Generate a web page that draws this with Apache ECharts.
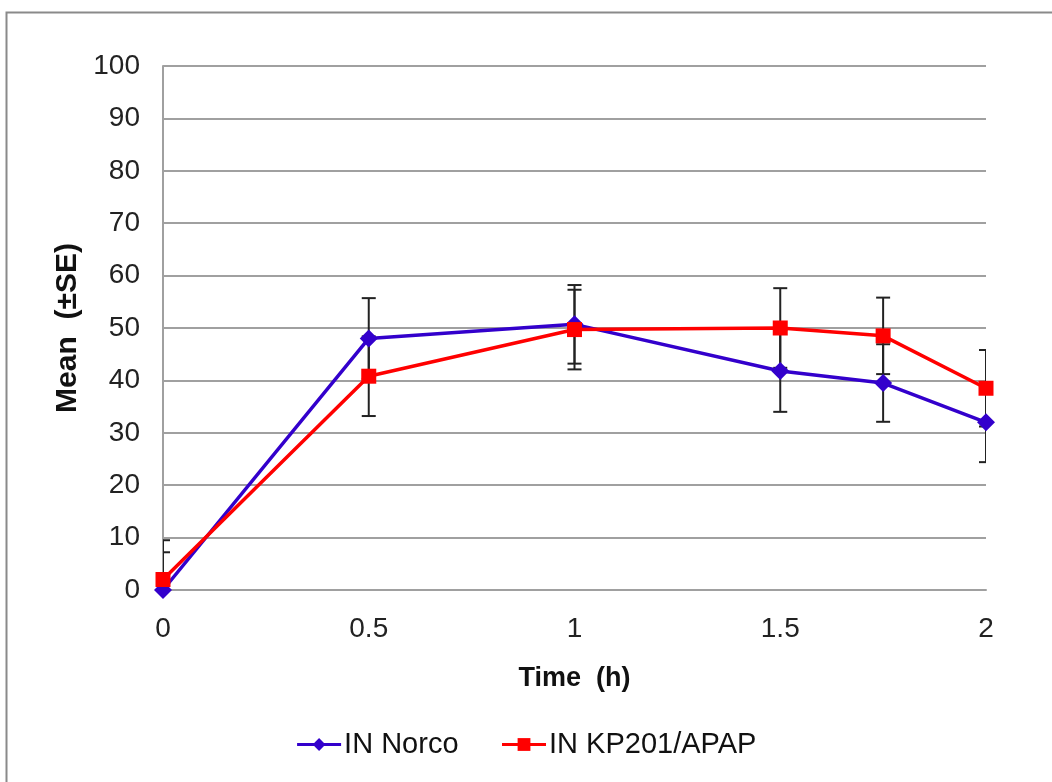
<!DOCTYPE html>
<html>
<head>
<meta charset="utf-8">
<script src="https://cdn.jsdelivr.net/npm/echarts@6/dist/echarts.min.js"></script>
<style>html,body{margin:0;padding:0;background:#fff;}#c{width:1052px;height:782px;}</style>
</head>
<body>
<div id="c"></div>
<script>
const times = [0, 0.5, 1, 1.5, 1.75, 2];
const norcoMean = [0, 48, 50.7, 41.8, 39.5, 32];
const norcoSE = [7.2, 7.7, 7.5, 7.8, 7.4, 7.6];
const kpMean = [2, 40.8, 49.7, 50, 48.5, 38.5];
const kpSE = [7.5, 7.6, 7.6, 7.6, 7.3, 7.3];
const seriesNames = ['IN Norco', 'IN KP201/APAP'];

const FONT = '"Liberation Sans", Arial, sans-serif';

function errData(mean, se) {
  return times.map((t, i) => [t, mean[i] - se[i], mean[i] + se[i]]);
}
function renderErr(params, api) {
  const x = api.value(0);
  const lo = api.coord([x, api.value(1)]);
  const hi = api.coord([x, api.value(2)]);
  const hw = 7;
  const style = { stroke: '#222', lineWidth: 2 };
  return {
    type: 'group',
    children: [
      { type: 'line', shape: { x1: lo[0], y1: lo[1], x2: hi[0], y2: hi[1] }, style },
      { type: 'line', shape: { x1: hi[0] - hw, y1: hi[1], x2: hi[0] + hw, y2: hi[1] }, style },
      { type: 'line', shape: { x1: lo[0] - hw, y1: lo[1], x2: lo[0] + hw, y2: lo[1] }, style }
    ]
  };
}

const chart = echarts.init(document.getElementById('c'), null, { renderer: 'canvas' });
chart.setOption({
  animation: false,
  backgroundColor: '#fff',
  graphic: [{
    type: 'rect', left: 4, top: 10, z: -10, silent: true,
    shape: { width: 1200, height: 900 },
    style: { fill: 'none', stroke: '#8a8a8a', lineWidth: 2 }
  }],
  grid: { left: 163, right: 66, top: 66, bottom: 192, containLabel: false },
  legend: {
    bottom: 18, left: 'center',
    data: seriesNames,
    itemWidth: 44, itemHeight: 16, itemGap: 42,
    lineStyle: { width: 3 },
    textStyle: { fontFamily: FONT, fontSize: 29, color: '#111', padding: [0, 0, 0, -2] }
  },
  xAxis: {
    type: 'value', min: 0, max: 2, interval: 0.5,
    name: 'Time  (h)', nameLocation: 'middle', nameGap: 75,
    nameTextStyle: { fontFamily: FONT, fontSize: 27, fontWeight: 'bold', color: '#111' },
    axisLine: { show: true, lineStyle: { color: '#a0a0a0', width: 2 } },
    axisTick: { show: false },
    splitLine: { show: false },
    axisLabel: { fontFamily: FONT, fontSize: 28, color: '#222', margin: 25,
      formatter: v => String(v) }
  },
  yAxis: {
    type: 'value', min: 0, max: 100, interval: 10,
    name: 'Mean  (±SE)', nameLocation: 'middle', nameGap: 73, nameRotate: 90,
    nameTextStyle: { fontFamily: FONT, fontSize: 30, fontWeight: 'bold', color: '#111' },
    axisLine: { show: true, lineStyle: { color: '#a0a0a0', width: 2 } },
    axisTick: { show: false },
    splitLine: { show: true, lineStyle: { color: '#a0a0a0', width: 2 } },
    axisLabel: { fontFamily: FONT, fontSize: 28, color: '#222', margin: 23 }
  },
  series: [
    {
      type: 'custom', name: 'errN', renderItem: renderErr, clip: true, z: 1,
      data: errData(norcoMean, norcoSE), silent: true
    },
    {
      type: 'custom', name: 'errK', renderItem: renderErr, clip: true, z: 1,
      data: errData(kpMean, kpSE), silent: true
    },
    {
      name: seriesNames[0], type: 'line', z: 3,
      data: times.map((t, i) => [t, norcoMean[i]]),
      color: '#3300CC',
      lineStyle: { width: 3.5, color: '#3300CC' },
      symbol: 'diamond', symbolSize: 18,
      itemStyle: { color: '#3300CC' }
    },
    {
      name: seriesNames[1], type: 'line', z: 4,
      data: times.map((t, i) => [t, kpMean[i]]),
      color: '#FF0000',
      lineStyle: { width: 3.5, color: '#FF0000' },
      symbol: 'rect', symbolSize: 15,
      itemStyle: { color: '#FF0000' }
    }
  ]
});
</script>
</body>
</html>
